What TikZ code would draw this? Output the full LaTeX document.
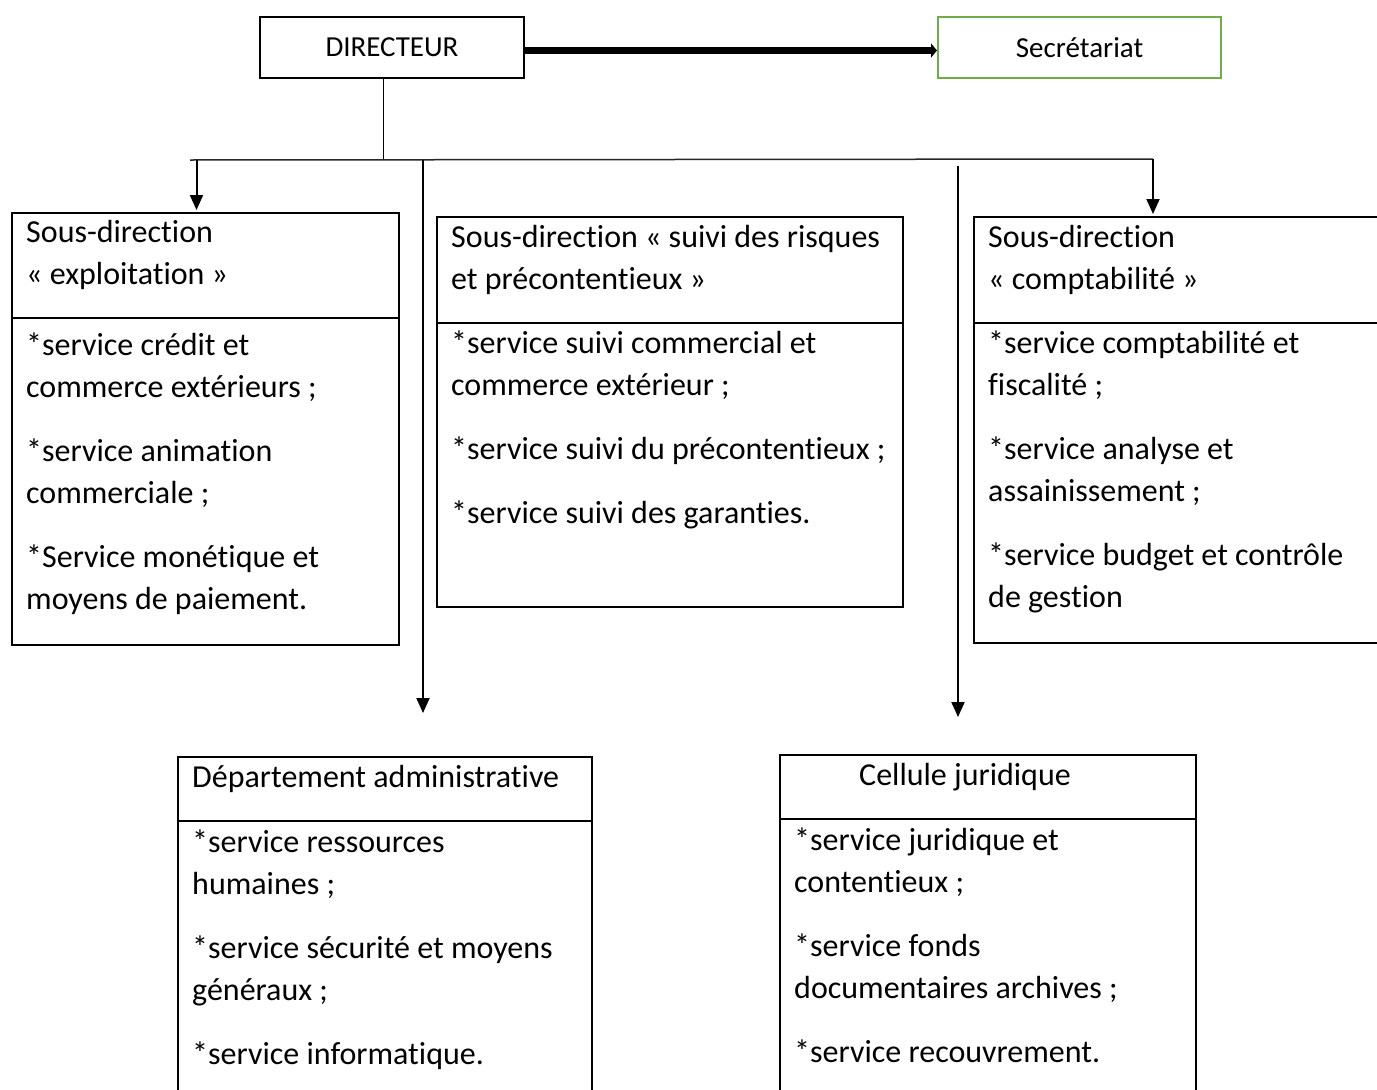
\documentclass[tikz,border=0pt]{standalone}
\usepackage{fontspec}
\setmainfont{Carlito}[Ligatures=NoCommon]
\usepackage{xcolor}
\usetikzlibrary{arrows.meta,positioning}
\definecolor{secgreen}{HTML}{70AD47}
\tikzset{
  topbox/.style={
    draw=black,
    line width=2pt,
    anchor=north west,
    minimum height=61pt,
    inner sep=0pt,
    font=\fontsize{29}{35}\selectfont
  },
  orgbox/.style={draw=black,line width=2pt,anchor=north west,inner sep=0pt},
  boxtext/.style={
    anchor=base west,
    align=flush left,
    inner sep=0pt,
    text width=#1,
    font=\fontsize{32}{42}\selectfont
  },
  linkarrow/.style={-{Triangle[length=15pt,width=13pt]},line width=2pt,draw=black},
  busline/.style={line width=1.5pt,draw=black!85}
}

\begin{document}
\begin{tikzpicture}[x=1pt,y=-1pt]
    \useasboundingbox (0,0) rectangle (1377,1090);
    \clip (0,0) rectangle (1377,1090);

    % direction
    \node[topbox,minimum width=264pt] (dir) at (259,16) {DIRECTEUR};
    \node[topbox,draw=secgreen,minimum width=283pt] (sec) at (937,16) {Secrétariat};
    \draw[line width=7pt,-{Triangle[length=6pt,width=14pt]}]
      ([yshift=-3pt]dir.east) -- ([yshift=-3pt]sec.west);

    \coordinate (busL) at (190,160);
    \coordinate (busR) at (1153,159);
    \coordinate (dirDrop) at ([xshift=-9pt]dir.south);
    \draw[line width=1pt] (dirDrop) -- (dirDrop |- busL);
    \draw[busline] (busL) -- (busR);

    % sous-directions
    \node[orgbox,minimum width=387pt,minimum height=432pt] (exploit) at (11,212) {};
    \draw[line width=2pt] (exploit.west |- 0,318) -- (exploit.east |- 0,318);
    \node[boxtext=370pt] (exploitHead) at (26,242) {
      Sous-direction\\
      « exploitation »};
    \node[boxtext=370pt] (exploitList) at (26,355) {
      *service crédit et\\
      commerce extérieurs ;\\[22pt]
      *service animation\\
      commerciale ;\\[22pt]
      *Service monétique et\\
      moyens de paiement.};

    \node[orgbox,minimum width=466pt,minimum height=390pt] (risques) at (436,216) {};
    \draw[line width=2pt] (risques.west |- 0,323) -- (risques.east |- 0,323);
    \node[boxtext=460pt] (risquesHead) at (451,247) {
      Sous-direction « suivi des risques\\
      et précontentieux »};
    \node[boxtext=460pt] (risquesList) at (451,353) {
      *service suivi commercial et\\
      commerce extérieur ;\\[22pt]
      *service suivi du précontentieux ;\\[22pt]
      *service suivi des garanties.};

    \node[orgbox,minimum width=450pt,minimum height=426pt] (compta) at (973,216) {};
    \draw[line width=2pt] (compta.west |- 0,323) -- (compta.east |- 0,323);
    \node[boxtext=420pt] (comptaHead) at (988,247) {
      Sous-direction\\
      « comptabilité »};
    \node[boxtext=420pt] (comptaList) at (988,353) {
      *service comptabilité et\\
      fiscalité ;\\[22pt]
      *service analyse et\\
      assainissement ;\\[22pt]
      *service budget et contrôle\\
      de gestion};

    % departement et cellule
    \node[orgbox,minimum width=414pt,minimum height=360pt] (admin) at (177,756) {};
    \draw[line width=2pt] (admin.west |- 0,821) -- (admin.east |- 0,821);
    \node[boxtext=400pt] (adminHead) at (192,787) {Département administrative};
    \node[boxtext=400pt] (adminList) at (192,852) {
      *service ressources\\
      humaines ;\\[22pt]
      *service sécurité et moyens\\
      généraux ;\\[22pt]
      *service informatique.};

    \node[orgbox,minimum width=416pt,minimum height=360pt] (jurid) at (779,754) {};
    \draw[line width=2pt] (jurid.west |- 0,819) -- (jurid.east |- 0,819);
    \node[boxtext=300pt] (juridHead) at (859,785) {Cellule juridique};
    \node[boxtext=400pt] (juridList) at (794,850) {
      *service juridique et\\
      contentieux ;\\[22pt]
      *service fonds\\
      documentaires archives ;\\[22pt]
      *service recouvrement.};

    % liaisons
    \coordinate (toExploit) at ([xshift=-9pt]exploit.north);
    \coordinate (toCompta) at ([xshift=180pt]compta.north west);
    \coordinate (toAdmin) at ([xshift=246pt,yshift=43pt]admin.north west);
    \coordinate (toJurid) at ([xshift=179pt,yshift=37pt]jurid.north west);
    \draw[linkarrow,shorten >=2pt] (toExploit |- busL) -- (toExploit);
    \draw[linkarrow,shorten >=2pt] (toCompta |- busR) -- (toCompta);
    \draw[linkarrow] (toAdmin |- busL) -- (toAdmin);
    \draw[linkarrow,shorten <=6pt] (toJurid |- busL) -- (toJurid);
  \end{tikzpicture}
\end{document}
